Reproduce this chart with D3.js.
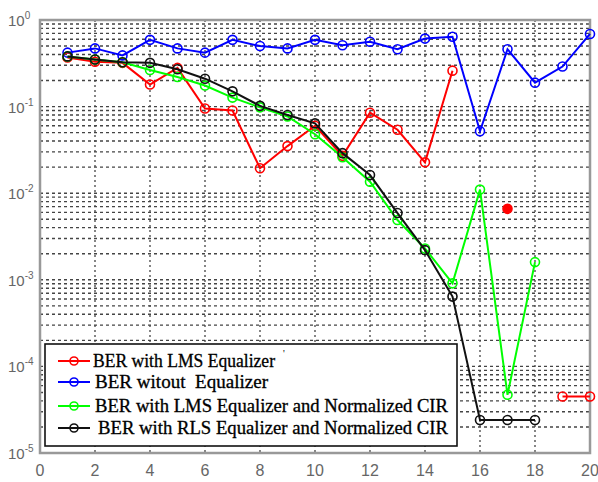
<!DOCTYPE html>
<html>
<head>
<meta charset="utf-8">
<script src="https://cdn.jsdelivr.net/npm/d3@7"></script>
<style>
  body { margin: 0; background: #fff; }
  svg { display: block; }
  text { white-space: pre; }
</style>
</head>
<body>
<div id="chart"></div>
<script>
let width = 598,
    height = 482,
    margin = ({ top: 20, right: 8, bottom: 29, left: 40 }); // plot box 40..590 x 20..453

// SNR steps on the x axis
const snr = d3.range(1, 21);

// BER values (null = no point)
const berLMS = [0.37, 0.33, 0.32, 0.18, 0.28, 0.095, 0.09, 0.0194, 0.035, 0.06,
                0.027, 0.085, 0.054, 0.0227, 0.26, null, 0.0066, null, 4.5e-5, 4.5e-5];
const berNoEq = [0.42, 0.47, 0.39, 0.59, 0.47, 0.42, 0.59, 0.50, 0.47, 0.59,
                 0.51, 0.56, 0.46, 0.61, 0.64, 0.052, 0.46, 0.189, 0.29, 0.69];
const berLMSNorm = [0.38, 0.35, 0.325, 0.265, 0.22, 0.175, 0.127, 0.098, 0.077, 0.048,
                    0.026, 0.0136, 0.0049, 0.0023, 9.1e-4, 0.011, 4.7e-5, 0.0016, null, null];
const berRLSNorm = [0.38, 0.35, 0.325, 0.32, 0.27, 0.21, 0.15, 0.102, 0.08, 0.064,
                    0.029, 0.0162, 0.0059, 0.0022, 6.4e-4, 2.4e-5, 2.4e-5, 2.4e-5, null, null];

const seriesNames = ["BER with LMS Equalizer", "BER witout  Equalizer",
                     "BER with LMS Equalizer and Normalized CIR",
                     "BER with RLS Equalizer and Normalized CIR"];
const seriesColors = ["#ff0000", "#0000ff", "#00ff00", "#111111"];
const seriesValues = [berLMS, berNoEq, berLMSNorm, berRLSNorm];

const xTicks = d3.range(0, 21, 2);
const yTicks = [1, 1e-1, 1e-2, 1e-3, 1e-4, 1e-5];

const svg = d3.select("#chart")
  .append("svg")
  .attr("width", width)
  .attr("height", height);

let x = d3.scaleLinear()
  .domain([0, 20])
  .range([margin.left, width - margin.right]);

let y = d3.scaleLog()
  .domain([1e-5, 1])
  .range([height - margin.bottom, margin.top]);

// grid: minor log lines (1..9 of each decade) and x every 2
let minor = [];
for (let e = -5; e < 0; e++) {
  for (let m = 1; m < 10; m++) minor.push(m * Math.pow(10, e));
}
minor.push(1);

const grid = svg.append("g");
grid.selectAll("line.h")
  .data(minor)
  .join("line")
  .attr("class", "h")
  .attr("x1", margin.left).attr("x2", width - margin.right)
  .attr("y1", d => y(d)).attr("y2", d => y(d))
  .attr("stroke", "#444")
  .attr("stroke-width", 1.4)
  .attr("stroke-dasharray", "3,3");

grid.selectAll("line.v")
  .data(xTicks.slice(1, -1))
  .join("line")
  .attr("class", "v")
  .attr("x1", d => x(d)).attr("x2", d => x(d))
  .attr("y1", margin.top).attr("y2", height - margin.bottom)
  .attr("stroke", "#444")
  .attr("stroke-width", 1.3)
  .attr("stroke-dasharray", "2,3");

// frame
svg.append("rect")
  .attr("x", margin.left).attr("y", margin.top)
  .attr("width", width - margin.left - margin.right)
  .attr("height", height - margin.top - margin.bottom)
  .attr("fill", "none")
  .attr("stroke", "#999")
  .attr("stroke-width", 2.5);

// x tick labels
svg.append("g")
  .selectAll("text")
  .data(xTicks)
  .join("text")
  .attr("x", d => x(d))
  .attr("y", height - margin.bottom + 23)
  .attr("text-anchor", "middle")
  .attr("font-family", "Liberation Sans, Arial, sans-serif")
  .attr("font-size", 16)
  .attr("fill", "#666")
  .text(d => d);

// y tick labels 10^n
const yl = svg.append("g")
  .selectAll("text")
  .data(yTicks)
  .join("text")
  .attr("x", 8)
  .attr("y", d => y(d) + 6)
  .attr("font-family", "Liberation Sans, Arial, sans-serif")
  .attr("font-size", 15)
  .attr("fill", "#666");
yl.append("tspan").text("10");
yl.append("tspan")
  .attr("dy", -7)
  .attr("font-size", 10)
  .text(d => Math.round(Math.log10(d)));

// series lines and markers
const line = d3.line()
  .defined(d => d.v != null)
  .x(d => x(d.x))
  .y(d => y(d.v));

seriesValues.forEach((vals, i) => {
  const pts = vals.map((v, j) => ({ x: snr[j], v: v, lone: v != null && vals[j - 1] == null && vals[j + 1] == null && j > 0 }));
  const g = svg.append("g");
  g.append("path")
    .datum(pts)
    .attr("d", line)
    .attr("fill", "none")
    .attr("stroke", seriesColors[i])
    .attr("stroke-width", 2);
  g.selectAll("circle")
    .data(pts.filter(d => d.v != null))
    .join("circle")
    .attr("cx", d => x(d.x))
    .attr("cy", d => y(d.v))
    .attr("r", 4.5)
    .attr("fill", d => d.lone ? seriesColors[i] : "none")
    .attr("stroke", seriesColors[i])
    .attr("stroke-width", 1.6);
});

// legend
const lg = svg.append("g");
lg.append("rect")
  .attr("x", 45).attr("y", 344)
  .attr("width", 412).attr("height", 102)
  .attr("fill", "#fff")
  .attr("stroke", "#111")
  .attr("stroke-width", 1.6);

const legendY = [361, 382, 406, 428];
const legendTextX = [93, 95, 95, 98];
const legendTextW = [182, 173, 353, 350];
seriesNames.forEach((name, i) => {
  lg.append("line")
    .attr("x1", 58).attr("x2", 90)
    .attr("y1", legendY[i]).attr("y2", legendY[i])
    .attr("stroke", seriesColors[i])
    .attr("stroke-width", 2);
  lg.append("circle")
    .attr("cx", 74).attr("cy", legendY[i])
    .attr("r", 4)
    .attr("fill", "none")
    .attr("stroke", seriesColors[i])
    .attr("stroke-width", 1.6);
  lg.append("text")
    .attr("x", legendTextX[i])
    .attr("y", legendY[i] + 6)
    .attr("font-family", "Liberation Serif, Times New Roman, serif")
    .attr("font-size", 18)
    .attr("fill", "#000")
    .attr("stroke", "#000")
    .attr("stroke-width", 0.3)
    .attr("textLength", legendTextW[i])
    .attr("lengthAdjust", "spacingAndGlyphs")
    .text(name);
});
lg.append("text")
  .attr("x", 283).attr("y", 357)
  .attr("font-family", "Liberation Serif, serif")
  .attr("font-size", 10)
  .text("'");
</script>
</body>
</html>
